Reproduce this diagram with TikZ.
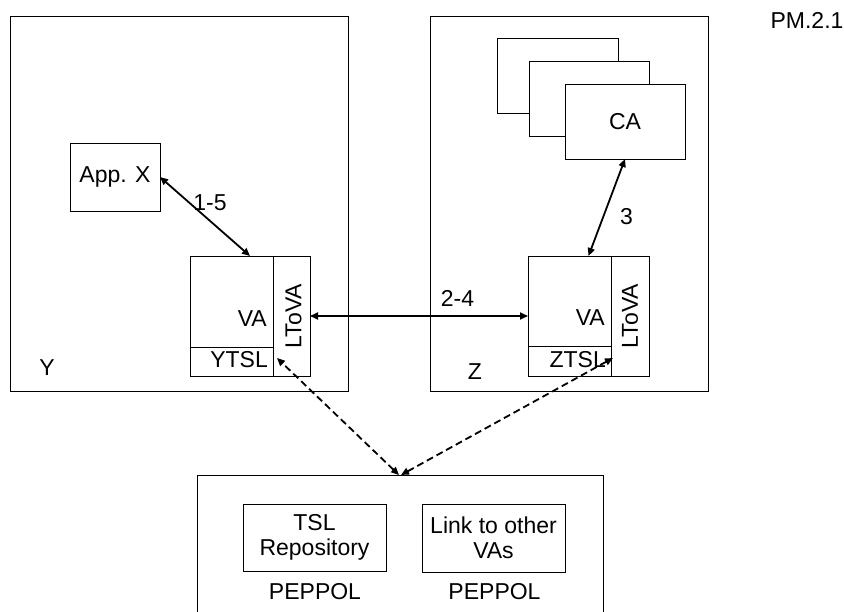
\documentclass[tikz,border=0pt]{standalone}
\usepackage{fontspec}
\setmainfont{Liberation Sans}
\usetikzlibrary{arrows.meta}

\begin{document}
\begin{tikzpicture}[x=1pt,y=-1pt,
	every node/.style={font=\fontsize{23}{25}\selectfont},
	box/.style={draw,line width=0.8pt,inner sep=0pt,outer sep=0pt,anchor=north west},
	lbl/.style={inner sep=0pt},
	link/.style={line width=1.8pt,{Triangle[length=8pt,width=7pt]}-{Triangle[length=8pt,width=7pt]}},
	tsllink/.style={link,dash pattern=on 7pt off 4pt}]
			\useasboundingbox (0,0) rectangle (844,612);
			\node[box,minimum width=338,minimum height=375] (ybox) at (10,16) {};
			\node[box,minimum width=278,minimum height=375] (zbox) at (430,16) {};
			\node[box,minimum width=406,minimum height=160] (pbox) at (197,475) {};
			\node[lbl] (ylbl) at (47,368) {Y};
			\node[lbl] (zlbl) at (475,372) {Z};
			\node[lbl] (pmlbl) at (807,20) {PM.2.1};
			\node[box,minimum width=90,minimum height=68] (appx) at (70,143) {App. X};
			% VA in Y
			\node[box,minimum width=120,minimum height=120] (yunit) at (190,256) {};
			\node[box,minimum width=37,minimum height=120] (yltova) at (273,256) {};
			\node[box,minimum width=83,minimum height=29] (ytsl) at (190,347) {};
			\node[lbl,anchor=base east] (yvalbl) at ([shift={(-6,-20)}]ytsl.north east) {VA};
			\node[lbl,anchor=base east] (ytsllbl) at ([shift={(-5,-8)}]ytsl.south east) {YTSL};
			\node[lbl,rotate=90] (yltovalbl) at ([xshift=2]yltova.center) {LToVA};
			% VA in Z
			\node[box,minimum width=121,minimum height=120] (zunit) at (528,256) {};
			\node[box,minimum width=38,minimum height=120] (zltova) at (611,256) {};
			\node[box,minimum width=83,minimum height=30] (ztsl) at (528,346) {};
			\node[lbl,anchor=base east] (zvalbl) at ([shift={(-6,-20)}]ztsl.north east) {VA};
			\node[lbl,anchor=base east] (ztsllbl) at ([shift={(-5,-8)}]ztsl.south east) {ZTSL};
			\node[lbl,rotate=90] (zltovalbl) at (zltova.center) {LToVA};
			% CA stack
			\node[box,fill=white,minimum width=121,minimum height=75] (ca1) at (497,38) {};
			\node[box,fill=white,minimum width=120,minimum height=75] (ca2) at (529,61) {};
			\node[box,fill=white,minimum width=120,minimum height=75] (ca) at (565,84) {CA};
			% PEPPOL
			\node[box,align=center,minimum width=143,minimum height=67] (tsl) at (243,504) {TSL\\Repository};
			\node[box,align=center,minimum width=143,minimum height=68] (others) at (422,504) {Link to other\\VAs};
			\node[lbl] (tslorg) at (315,591.5) {PEPPOL};
			\node[lbl] (othersorg) at (494.5,591.5) {PEPPOL};
			% connectors
			\draw[link] (appx.east) -- (yunit.north);
			\draw[link] (yunit.east) -- (zunit.west);
			\draw[link] (ca.south) -- (zunit.north);
			\draw[tsllink] ([xshift=-1]pbox.north) -- ([shift={(4,-3.5)}]ytsl.east);
			\draw[tsllink] ([xshift=1]pbox.north) -- ([shift={(2,-3)}]ztsl.east);
			\node[lbl] (lbl15) at (210,202.5) {1-5};
			\node[lbl] (lbl24) at (457.5,298.5) {2-4};
			\node[lbl] (lbl3) at (626.5,217) {3};
		\end{tikzpicture}
\end{document}
